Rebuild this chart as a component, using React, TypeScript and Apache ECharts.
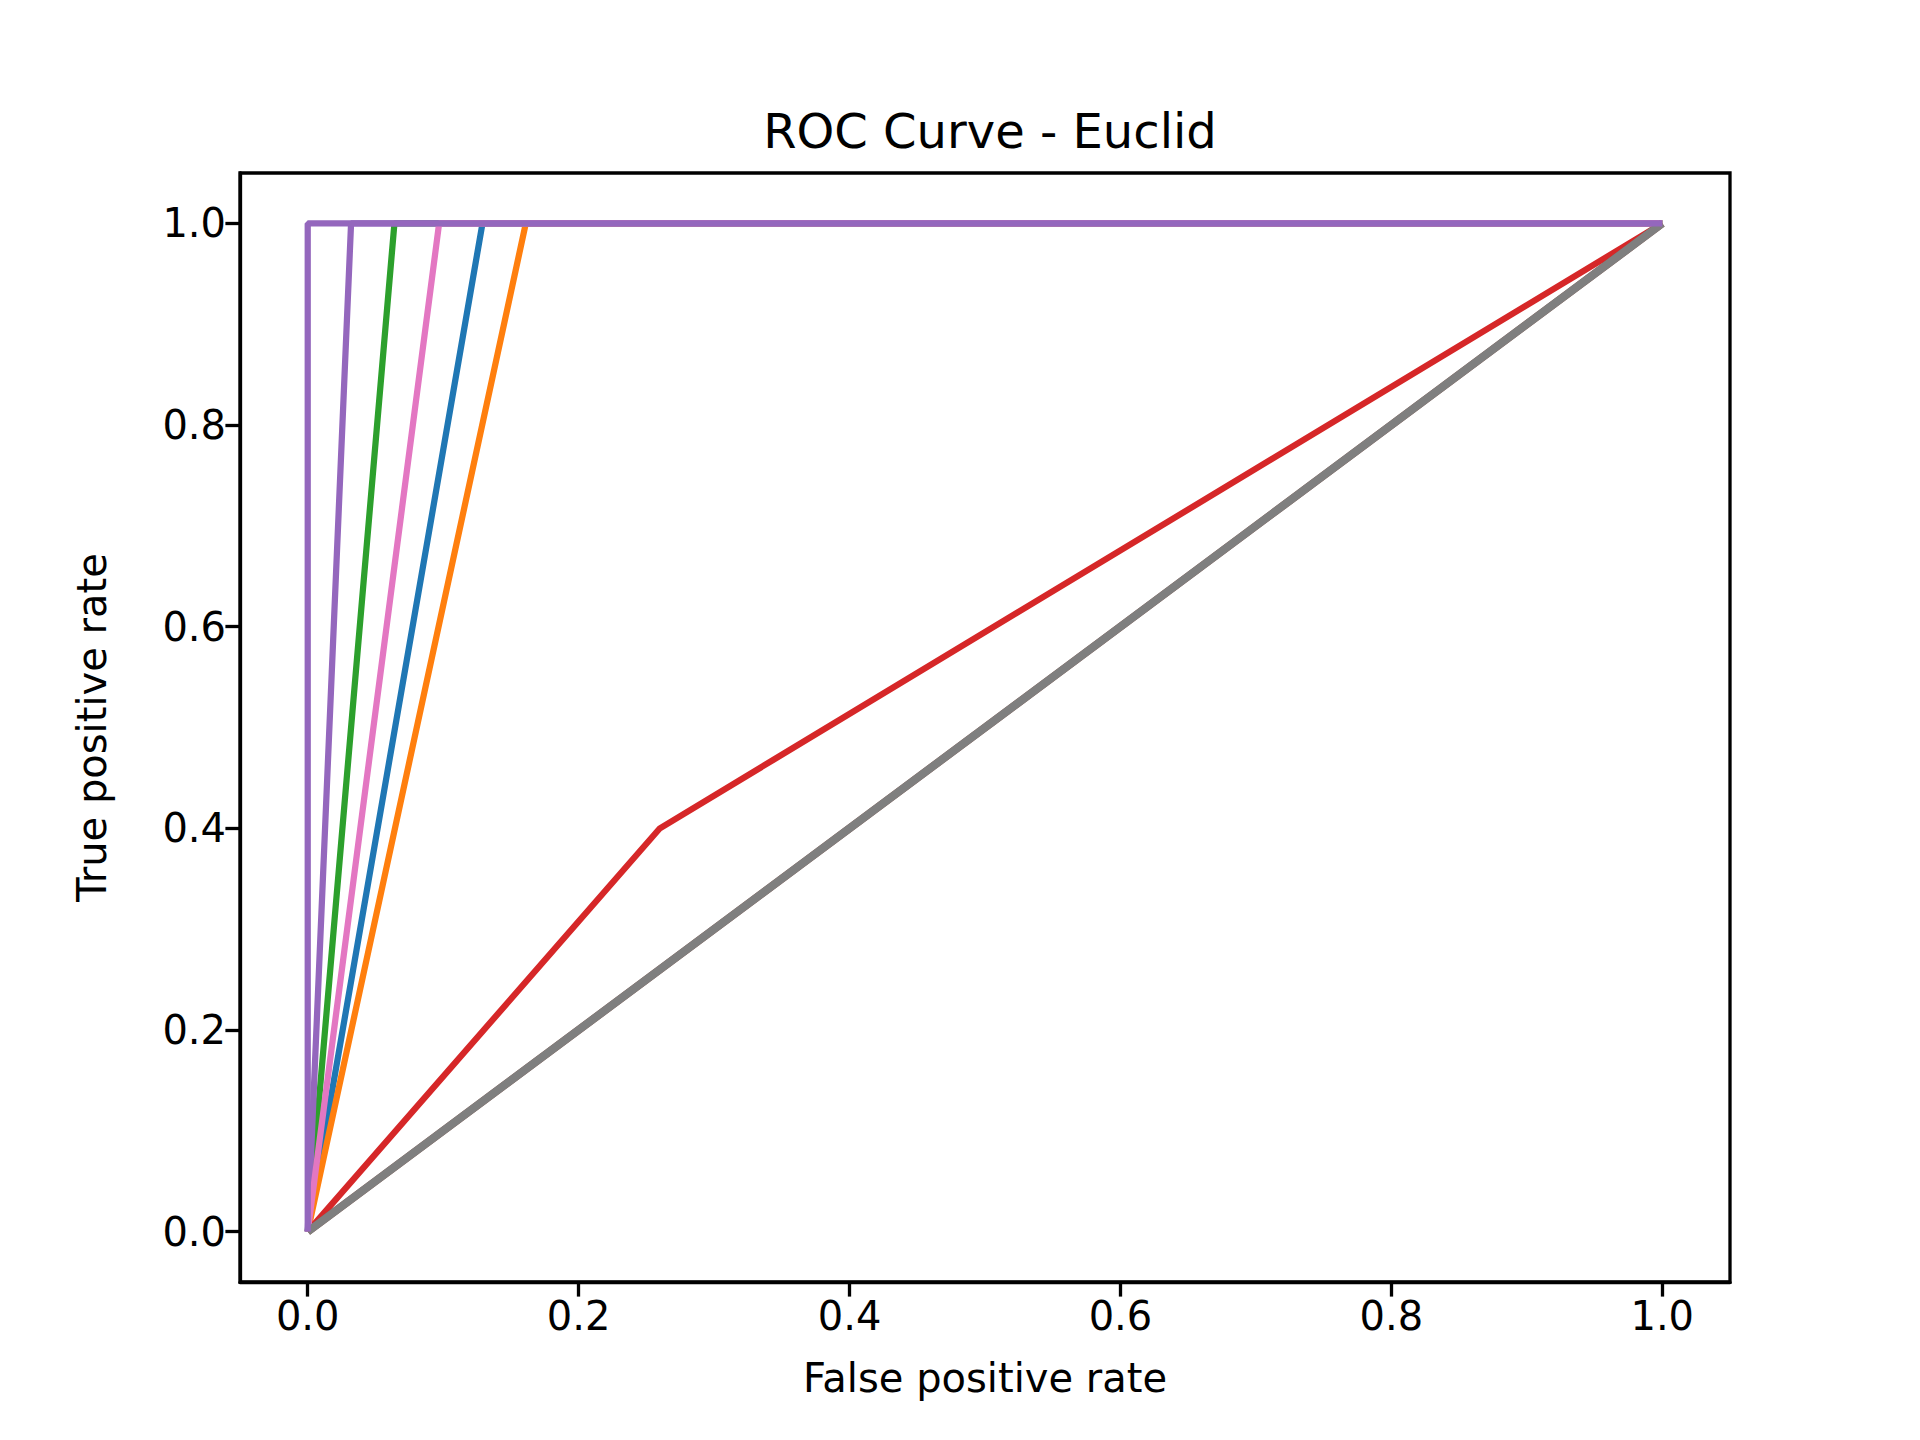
import React, { useEffect, useRef } from "react";
import * as echarts from "echarts";

// FPR at which each curve reaches TPR = 1
const seriesColors = ["#1f77b4", "#ff7f0e", "#2ca02c", "#9467bd", "#8c564b", "#e377c2", "#7f7f7f", "#9467bd"];
const fprAtFull = [0.129, 0.161, 0.064, 0.032, 1.0, 0.097, 1.0, 0.0];
const redCurve: [number, number][] = [[0, 0], [0.26, 0.4], [1, 1]];
const tickValues = [0, 0.2, 0.4, 0.6, 0.8, 1.0];

const App: React.FC = () => {
  const chartRef = useRef<HTMLDivElement | null>(null);
  useEffect(() => {
    if (!chartRef.current) return;
    const chart = echarts.init(chartRef.current, null, { renderer: "svg" });
    const font = "DejaVu Sans";
    const mk = (color: string, data: [number, number][], z: number, width = 6.25) => ({
      type: "line",
      data,
      showSymbol: false,
      z,
      lineStyle: { color, width },
    });
    const series: any[] = [];
    fprAtFull.forEach((x, i) => {
      series.push(mk(seriesColors[i], [[0, 0], [x, 1], [1, 1]], i < 3 ? 2 + i : 6 + i, x === 1 ? 8 : 6.25));
      if (i === 2) series.push(mk("#d62728", redCurve, 5));
    });
    const axisCommon = {
      type: "value",
      min: -0.05,
      max: 1.05,
      splitLine: { show: false },
      axisLine: { onZero: false, lineStyle: { color: "#000", width: 3.3 } },
      axisTick: { customValues: tickValues, length: 14.6, lineStyle: { color: "#000", width: 3.3 } },
      axisLabel: {
        customValues: tickValues,
        formatter: (v: number) => v.toFixed(1),
        fontFamily: font,
        fontSize: 40,
        color: "#000",
        margin: 14,
      },
      nameLocation: "middle",
      nameTextStyle: { fontFamily: font, fontSize: 40, color: "#000" },
    };
    chart.setOption({
      animation: false,
      title: {
        text: "ROC Curve - Euclid",
        left: 985,
        top: 102,
        textAlign: "center",
        textStyle: { fontFamily: font, fontSize: 48, fontWeight: "normal", color: "#000" },
      },
      grid: { left: 240, right: 190, top: 173, bottom: 158, show: true, borderColor: "#000", borderWidth: 3.3 },
      xAxis: { ...axisCommon, name: "False positive rate", nameGap: 76 },
      yAxis: { ...axisCommon, name: "True positive rate", nameGap: 128 },
      series,
    });
    return () => chart.dispose();
  }, []);
  return (
    <div
      ref={chartRef}
      style={{ position: "absolute", left: 0, top: 0, width: "1920px", height: "1440px", background: "#fff" }}
    />
  );
};

export default App;
